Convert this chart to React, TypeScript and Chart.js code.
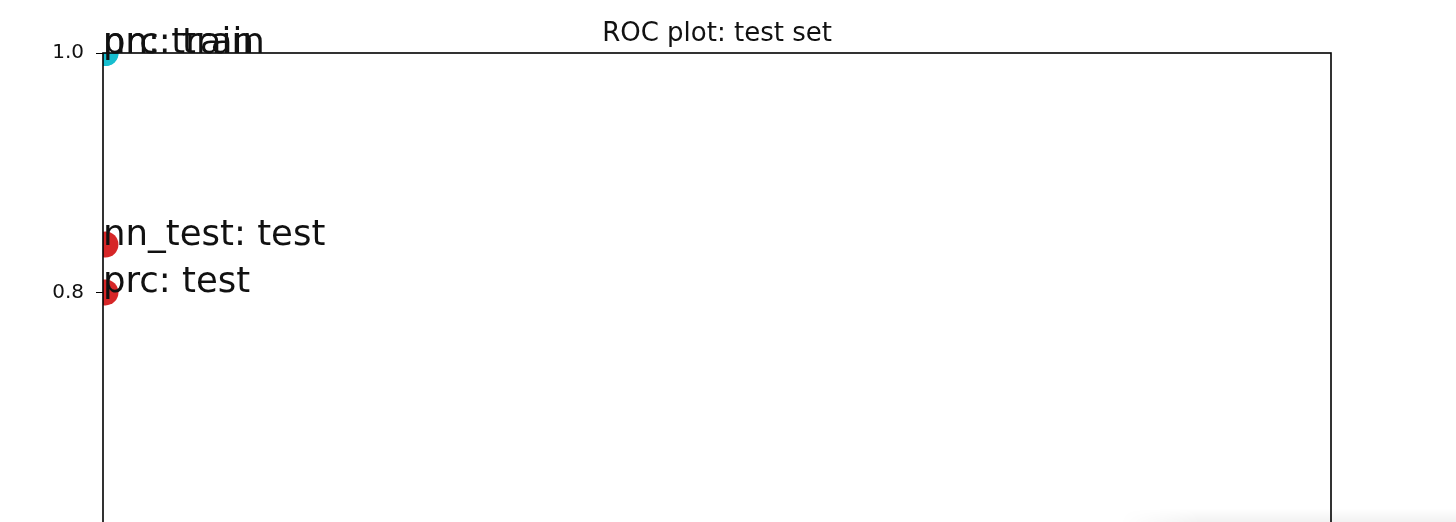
import React, { useEffect, useRef } from "react";
import { Chart, registerables } from "chart.js";

Chart.register(...registerables);

const pointLabels = ["prc: train", "nn: train", "prc: test", "nn_test: test"];
const fprValues = [0.002, 0.002, 0.002, 0.002];
const tprValues = [1.0, 1.0, 0.8, 0.84];
const pointSets = ["train", "train", "test", "test"];
const yTicks = [0, 0.2, 0.4, 0.6, 0.8, 1.0];
const titleText = "ROC plot: test set";

const setColors: Record<string, string> = { train: "#17becf", test: "#d62728" };
const FONT = "'DejaVu Sans', sans-serif";

export default function App() {
  const ref = useRef<HTMLCanvasElement | null>(null);

  useEffect(() => {
    if (!ref.current) return;
    const data = fprValues.map((x, i) => ({ x, y: tprValues[i] }));
    const overlay = {
      id: "overlay",
      afterDatasetsDraw(chart: any) {
        const { ctx, chartArea, scales } = chart;
        ctx.save();
        ctx.strokeStyle = "#000";
        ctx.lineWidth = 1.6;
        ctx.strokeRect(chartArea.left, chartArea.top, chartArea.right - chartArea.left, chartArea.bottom - chartArea.top);
        ctx.fillStyle = "#111";
        ctx.font = `35.5px ${FONT}`;
        ctx.textAlign = "left";
        ctx.textBaseline = "alphabetic";
        pointLabels.forEach((lab, i) => {
          const px = scales.x.getPixelForValue(0);
          const py = scales.y.getPixelForValue(tprValues[i]);
          ctx.fillText(lab, px, py);
        });
        ctx.font = `26px ${FONT}`;
        ctx.textAlign = "center";
        ctx.fillStyle = "#111";
        ctx.fillText(titleText, (chartArea.left + chartArea.right) / 2, chartArea.top - 12);
        ctx.restore();
      },
    };
    const chart = new Chart(ref.current, {
      type: "scatter",
      data: {
        datasets: [
          {
            data,
            pointRadius: 13,
            pointHoverRadius: 13,
            pointBorderWidth: 0,
            pointBackgroundColor: pointSets.map((s) => setColors[s]),
            pointBorderColor: pointSets.map((s) => setColors[s]),
            clip: 0,
          } as any,
        ],
      },
      options: {
        animation: false,
        responsive: false,
        events: [],
        layout: { padding: { left: 0, right: 117, top: 45, bottom: 0 } },
        plugins: { legend: { display: false }, tooltip: { enabled: false }, title: { display: false } },
        scales: {
          x: {
            type: "linear",
            min: 0,
            max: 1,
            grid: { display: true, drawOnChartArea: false, drawTicks: true, tickLength: 7, color: "#000" },
            border: { display: false },
            ticks: { stepSize: 0.2, color: "#111", font: { family: FONT, size: 20 }, padding: 8, callback: (v: any) => Number(v).toFixed(1) },
            afterFit: (s: any) => { s.height = 58; },
          },
          y: {
            type: "linear",
            min: 0,
            max: 1,
            afterBuildTicks: (s: any) => { s.ticks = yTicks.map((v) => ({ value: v })); },
            grid: { display: true, drawOnChartArea: false, drawTicks: true, tickLength: 7, color: "#000" },
            border: { display: false },
            ticks: { color: "#111", font: { family: FONT, size: 20 }, padding: 12, callback: (v: any) => Number(v).toFixed(1) },
            afterFit: (s: any) => { s.width = 95; },
          },
        },
      },
      plugins: [overlay],
    });
    return () => chart.destroy();
  }, []);

  return (
    <div style={{ position: "fixed", left: 0, top: 0, width: "100vw", height: "100vh", overflow: "hidden", background: "#fff" }}>
      <canvas ref={ref} width={1440} height={1300} style={{ display: "block", position: "absolute", left: 8, top: 8, width: 1440, height: 1300 }} />
      <div style={{ position: "absolute", left: 1120, right: 0, bottom: 0, height: 14, background: "linear-gradient(to bottom, rgba(0,0,0,0), rgba(0,0,0,0.05))", WebkitMaskImage: "linear-gradient(to right, transparent, black 80px)" }} />
    </div>
  );
}
